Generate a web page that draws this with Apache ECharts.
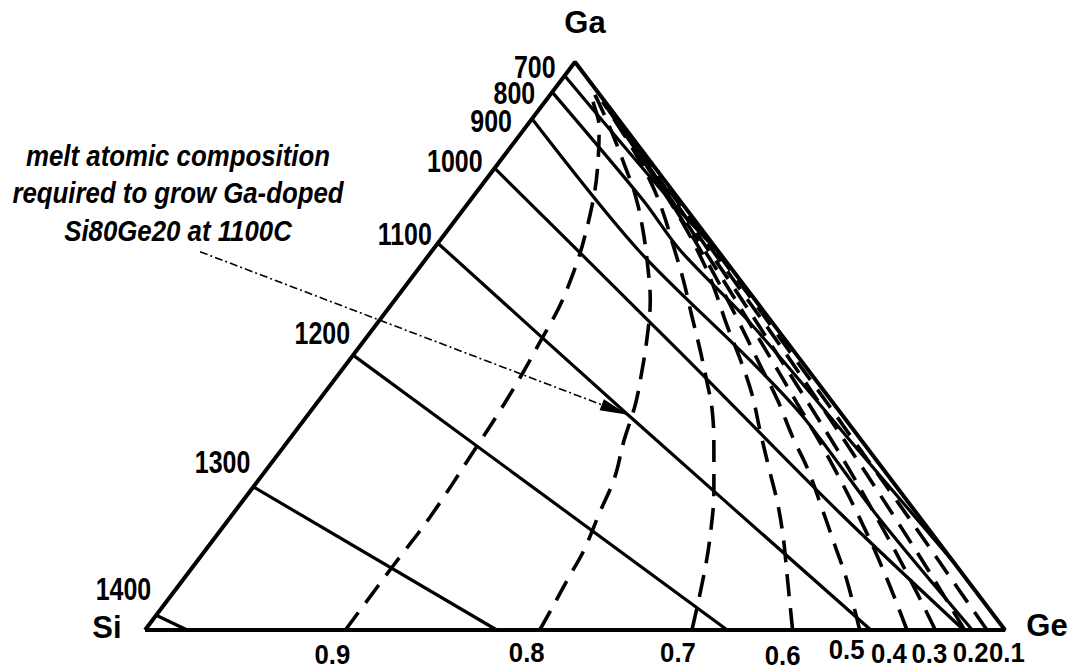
<!DOCTYPE html>
<html><head><meta charset="utf-8">
<script src="https://cdn.jsdelivr.net/npm/echarts@6/dist/echarts.min.js"></script>
<style>html,body{margin:0;padding:0;background:#fff}#c{width:1077px;height:672px}</style>
</head><body><div id="c"></div>
<script>
// ---------------- DATA ----------------
const vertexLabels = ['Si', 'Ge', 'Ga'];

// Isotherms (solid lines): melt composition points [xGe, xGa]
const isoTemps = ['700', '800', '900', '1000', '1100', '1200', '1300', '1400'];
const iso700  = [[0.002, 0.974], [0.232, 0.757], [0.34, 0.66]];
const iso800  = [[0, 0.947], [0.2005, 0.757], [0.2875, 0.669], [0.433, 0.541], [0.676, 0.312], [0.882, 0.118]];
const iso900  = [[0, 0.900], [0.239, 0.669], [0.466, 0.475], [0.578, 0.375], [0.758, 0.194], [0.962, 0]];
const iso1000 = [[0, 0.813], [0.379, 0.488], [0.705, 0.206], [0.952, 0]];
const iso1100 = [[0, 0.681], [0.372, 0.379], [0.844, 0]];
const iso1200 = [[0, 0.484], [0.677, 0]];
const iso1300 = [[0, 0.252], [0.409, 0]];
const iso1400 = [[0, 0.026], [0.049, 0]];

// Solid Si fraction lines (dashed): melt composition points [xGa, xSi]
const solidSiLabels = ['0.9', '0.8', '0.7', '0.6', '0.5', '0.4', '0.3', '0.2', '0.1'];
const dash09 = [[0,0.767],[0.114,0.654],[0.199,0.569],[0.312,0.463],[0.405,0.377],[0.498,0.295],[0.599,0.210],[0.731,0.117],[0.845,0.050],[0.884,0.030],[0.933,0.013],[0.951,0.007]];
const dash08 = [[0,0.541],[0.053,0.495],[0.088,0.465],[0.141,0.419],[0.208,0.367],[0.268,0.320],[0.331,0.278],[0.396,0.232],[0.453,0.196],[0.511,0.161],[0.581,0.122],[0.634,0.098],[0.704,0.069],[0.766,0.047],[0.819,0.033],[0.872,0.020],[0.924,0.009],[0.96,0.003]];
const dash07 = [[0,0.364],[0.106,0.296],[0.176,0.254],[0.247,0.215],[0.317,0.180],[0.387,0.147],[0.440,0.127],[0.493,0.108],[0.555,0.087],[0.616,0.066],[0.678,0.047],[0.739,0.029],[0.792,0.017],[0.85,0.009],[0.93,0.003]];
const dash06 = [[0,0.247],[0.106,0.201],[0.159,0.178],[0.220,0.154],[0.282,0.133],[0.352,0.109],[0.414,0.087],[0.475,0.070],[0.537,0.055],[0.599,0.038],[0.643,0.028],[0.72,0.016],[0.82,0.008],[0.92,0.003]];
const dash05 = [[0,0.169],[0.088,0.140],[0.150,0.123],[0.217,0.105],[0.282,0.088],[0.340,0.077],[0.405,0.062],[0.470,0.051],[0.55,0.037],[0.65,0.022],[0.75,0.012],[0.85,0.006],[0.93,0.002]];
const dash04 = [[0,0.114],[0.1,0.090],[0.2,0.070],[0.3,0.054],[0.4,0.042],[0.5,0.031],[0.6,0.021],[0.7,0.013],[0.8,0.007],[0.9,0.003]];
const dash03 = [[0,0.081],[0.1,0.064],[0.2,0.050],[0.3,0.038],[0.4,0.029],[0.5,0.021],[0.6,0.014],[0.7,0.009],[0.8,0.005],[0.9,0.002]];
const dash02 = [[0,0.047],[0.1,0.037],[0.2,0.029],[0.3,0.022],[0.4,0.016],[0.5,0.011],[0.6,0.008],[0.7,0.005],[0.8,0.003]];
const dash01 = [[0,0.021],[0.1,0.017],[0.2,0.013],[0.3,0.010],[0.4,0.007],[0.5,0.005],[0.6,0.003],[0.7,0.002]];

// Annotation
const annotationLines = ['melt atomic composition', 'required to grow Ga-doped', 'Si80Ge20 at 1100C'];
const arrowTail = [-0.269, 0.666];   // [xGe, xGa]
const arrowTip  = [0.372, 0.379];    // [xGe, xGa] melt composition for Si80Ge20 at 1100C

// ---------------- STYLE (label placement, px) ----------------
const isoLabelPos    = [[-10,-10],[-17,1],[-20,2],[-12,-7],[-6,-9],[-3,-22],[-3,-25],[-5,-26]];
const dashLabelPos   = [[-13,25],[-13,23],[-14,23],[-10,26],[-13,20],[-18,24],[-6,24],[6,23],[20,23]];
const vertexLabelPos = [[-38,-3],[42,-5],[10,-40]];

// ---------------- BUILD ----------------
const geGa = p => [p[0] + p[1] / 2, p[1]];            // [xGe,xGa] -> cartesian
const gaSi = p => [1 - p[1] - p[0] / 2, p[0]];        // [xGa,xSi] -> cartesian
const isoSets = [iso700, iso800, iso900, iso1000, iso1100, iso1200, iso1300, iso1400];
const dashSets = [dash09, dash08, dash07, dash06, dash05, dash04, dash03, dash02, dash01];
const vertexXY = [[0, 0], [1, 0], [0.5, 1]];

const SANS = '"Liberation Sans", Arial, sans-serif';

const series = [];
series.push({
  type: 'line', data: [vertexXY[0], vertexXY[1], vertexXY[2], vertexXY[0]],
  symbol: 'none', lineStyle: { color: '#000', width: 4 }, z: 5, silent: true
});
isoSets.forEach(s => series.push({
  type: 'line', data: s.map(geGa), symbol: 'none', smooth: 0.3,
  lineStyle: { color: '#000', width: 3.2 }, z: 4, silent: true
}));
dashSets.forEach(s => series.push({
  type: 'line', data: s.map(gaSi), symbol: 'none', smooth: 0.4,
  lineStyle: { color: '#000', width: 3.6, type: [22, 12] }, z: 3, silent: true
}));
series.push({
  type: 'line', data: [], symbol: 'none', silent: true,
  markLine: {
    silent: true, animation: false,
    lineStyle: { color: '#000', width: 1.6, type: [8, 3, 2, 3] },
    label: { show: false },
    data: [[
      { coord: geGa(arrowTail), symbol: 'none' },
      { coord: geGa(arrowTip), symbol: 'path://M0,0 L6,28 L-6,28 Z M0,-28 L0,-28', symbolSize: [12, 56] }
    ]]
  }
});

const chart = echarts.init(document.getElementById('c'), null, { renderer: 'svg' });
chart.setOption({
  animation: false,
  backgroundColor: '#fff',
  grid: { left: 145, right: 72, top: 62, bottom: 42, containLabel: false },
  xAxis: { type: 'value', min: 0, max: 1, show: false },
  yAxis: { type: 'value', min: 0, max: 1, show: false },
  series: series
});

// text labels anchored to data points (converted through the grid's axes)
const px = xy => chart.convertToPixel({ gridIndex: 0 }, xy);
const texts = [];
function addText(xy, off, txt, align, size, scaleX, style) {
  const p = px(xy);
  texts.push({
    type: 'text', x: p[0] + off[0], y: p[1] + off[1], scaleX: scaleX, z: 20, silent: true,
    style: { text: txt, align: align, verticalAlign: 'middle', fill: '#000',
             font: (style || 'bold') + ' ' + size + 'px ' + SANS }
  });
}
isoSets.forEach((s, i) => addText(geGa(s[0]), isoLabelPos[i], isoTemps[i], 'right', 32, 0.78));
dashSets.forEach((s, i) => addText(gaSi(s[0]), dashLabelPos[i], solidSiLabels[i], 'center', 28, 0.92));
vertexXY.forEach((v, i) => addText(v, vertexLabelPos[i], vertexLabels[i], 'center', 31, 1));
texts.push({
  type: 'text', x: 178, y: 193, scaleX: 0.89, z: 20, silent: true,
  style: {
    text: annotationLines.join('\n'), align: 'center', verticalAlign: 'middle',
    font: 'italic bold 29px ' + SANS, lineHeight: 37.5, fill: '#000'
  }
});
chart.setOption({ graphic: texts });
</script></body></html>
